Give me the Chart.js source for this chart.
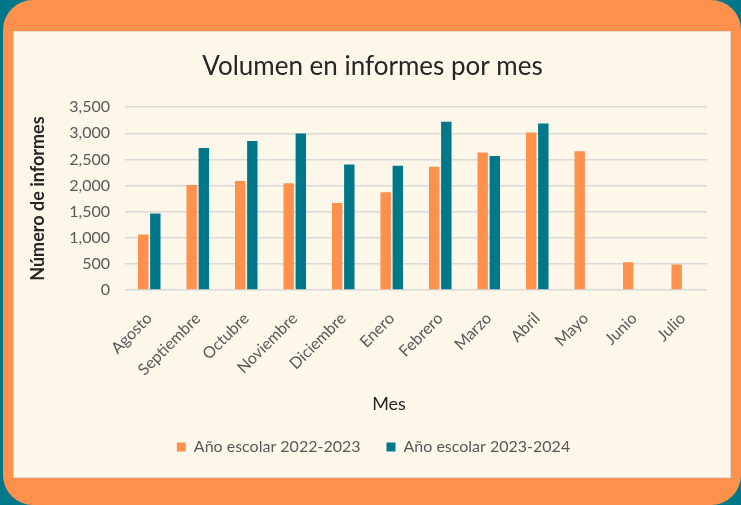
<!DOCTYPE html>
<html>
<head>
<meta charset="utf-8">
<script src="https://cdn.jsdelivr.net/npm/chart.js@4"></script>
<style>
  html, body { margin: 0; padding: 0; }
  body { width: 741px; height: 505px; background: #00788a; position: relative; overflow: hidden; }
  .marco { position: absolute; left: 3px; top: 0; width: 738px; height: 505px; background: #ff914d; border-radius: 30px; }
  .panel { position: absolute; left: 13px; top: 31px; width: 716px; height: 445px; background: #fdf7ea; border: 1px solid #e2ddd2; }
</style>
</head>
<body>
<div class="marco"></div>
<div class="panel"><canvas id="grafico" width="716" height="445"></canvas></div>
<script>
// ── DATOS ───────────────────────────────────
const meses = ['Agosto', 'Septiembre', 'Octubre', 'Noviembre', 'Diciembre', 'Enero', 'Febrero', 'Marzo', 'Abril', 'Mayo', 'Junio', 'Julio'];
const anio2223 = [1065, 2010, 2085, 2045, 1665, 1870, 2360, 2635, 3015, 2655, 530, 490];
const anio2324 = [1465, 2720, 2855, 2995, 2405, 2380, 3220, 2565, 3190, null, null, null];
const ticksY = [0, 500, 1000, 1500, 2000, 2500, 3000, 3500];

const gris = '#595959';
const oscuro = '#262626';
const fuente = 'Lato, "Open Sans", sans-serif';

// título y leyenda van centrados en el panel, no en el área del gráfico;
// "Mes" queda algo a la izquierda del centro del eje
const ajustes = {
  id: 'ajustes',
  afterLayout(chart) {
    chart.titleBlock.left += 7; chart.titleBlock.right += 7;
    chart.legend.left += 8; chart.legend.right += 8;
  },
  afterDraw(chart) {
    const { ctx, chartArea, scales } = chart;
    ctx.save();
    ctx.font = '18px ' + fuente;
    ctx.fillStyle = oscuro;
    ctx.textAlign = 'center';
    ctx.textBaseline = 'middle';
    ctx.fillText('Mes', (chartArea.left + chartArea.right) / 2 - 27, scales.x.bottom - 9);
    ctx.restore();
  }
};

new Chart(document.getElementById('grafico'), {
  type: 'bar',
  data: {
    labels: meses,
    datasets: [
      { label: 'Año escolar 2022-2023', data: anio2223, backgroundColor: '#ff914d', categoryPercentage: 0.5, barPercentage: 0.86 },
      { label: 'Año escolar 2023-2024', data: anio2324, backgroundColor: '#00788a', categoryPercentage: 0.5, barPercentage: 0.86 }
    ]
  },
  plugins: [ajustes],
  options: {
    responsive: false, animation: false,
    layout: { padding: { left: 10, right: 23, top: 10, bottom: 12 } },
    plugins: {
      title: { display: true, text: 'Volumen en informes por mes', color: oscuro, font: { family: fuente, size: 26, weight: 'normal' }, padding: { top: 9, bottom: 25 } },
      legend: {
        position: 'bottom',
        labels: { color: gris, font: { family: fuente, size: 16 }, boxWidth: 9, boxHeight: 9, padding: 26 }
      },
      tooltip: { enabled: false }
    },
    scales: {
      x: {
        grid: { display: false, drawTicks: false },
        border: { display: false },
        ticks: { color: gris, font: { family: fuente, size: 16 }, maxRotation: 45, minRotation: 45, padding: 19 },
        afterFit: s => { s.height = 123; }
      },
      y: {
        min: 0, max: 3500,
        afterBuildTicks: s => { s.ticks = ticksY.map(v => ({ value: v })); },
        grid: { color: '#d9d9d9', lineWidth: 1.5, drawTicks: false },
        border: { display: false },
        ticks: { color: gris, font: { family: fuente, size: 16 }, padding: 15, callback: v => v.toLocaleString('en-US') },
        title: { display: true, text: 'Número de informes', color: oscuro, font: { family: fuente, size: 18, weight: 'bold' }, padding: { top: 3, bottom: 0 } },
        afterFit: s => { s.width = 101; }
      }
    }
  }
});
</script>
</body>
</html>
